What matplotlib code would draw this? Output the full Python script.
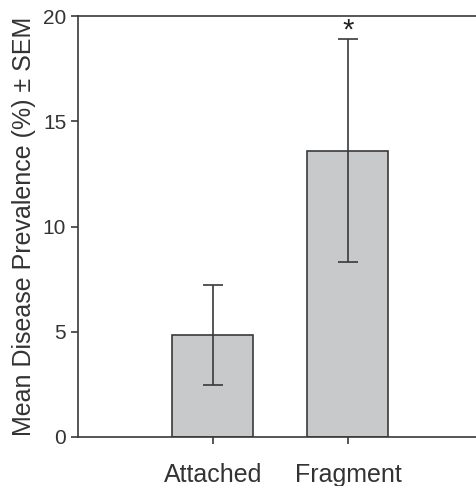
import matplotlib
matplotlib.use("Agg")
import matplotlib.pyplot as plt

# Data
groups = ["Attached", "Fragment"]
means = [4.85, 13.6]
sems = [2.37, 5.3]
sig = ["", "*"]

plt.rcParams['font.family'] = ['Liberation Sans', 'DejaVu Sans']

fig = plt.figure(figsize=(4.77, 4.86), dpi=100)
ax = fig.add_axes([78 / 477, 1 - 437 / 486, 1 - 78 / 477, 421 / 486])

x = range(len(groups))
ax.bar(x, means, width=0.6, color="#c8c9cb", edgecolor="#3a3a3a", linewidth=1.2,
       yerr=sems, error_kw=dict(ecolor="#3a3a3a", elinewidth=1.2, capsize=7, capthick=1.2))

for i, s in enumerate(sig):
    if s:
        ax.text(i, 18.95, s, ha="center", va="baseline",
                fontsize=21, color="#222222")

ax.set_xlim(-1.0, 1.956)
ax.set_ylim(0, 20)
ax.set_yticks([0, 5, 10, 15, 20])
ax.set_xticks(list(x))
ax.set_xticklabels(groups)
ax.set_ylabel("Mean Disease Prevalence (%) \u00b1 SEM", fontsize=18, color="#333333", labelpad=5)

for side in ["left", "bottom", "top"]:
    ax.spines[side].set_color("#3a3a3a")
    ax.spines[side].set_linewidth(1.2)
ax.spines["right"].set_visible(False)

ax.tick_params(axis="y", labelsize=15, length=5, width=1.2, colors="#3a3a3a", labelcolor="#333333")
ax.tick_params(axis="x", labelsize=18, length=5, width=1.2, colors="#3a3a3a", labelcolor="#333333", pad=14)

fig.savefig("out.png", dpi=100)
